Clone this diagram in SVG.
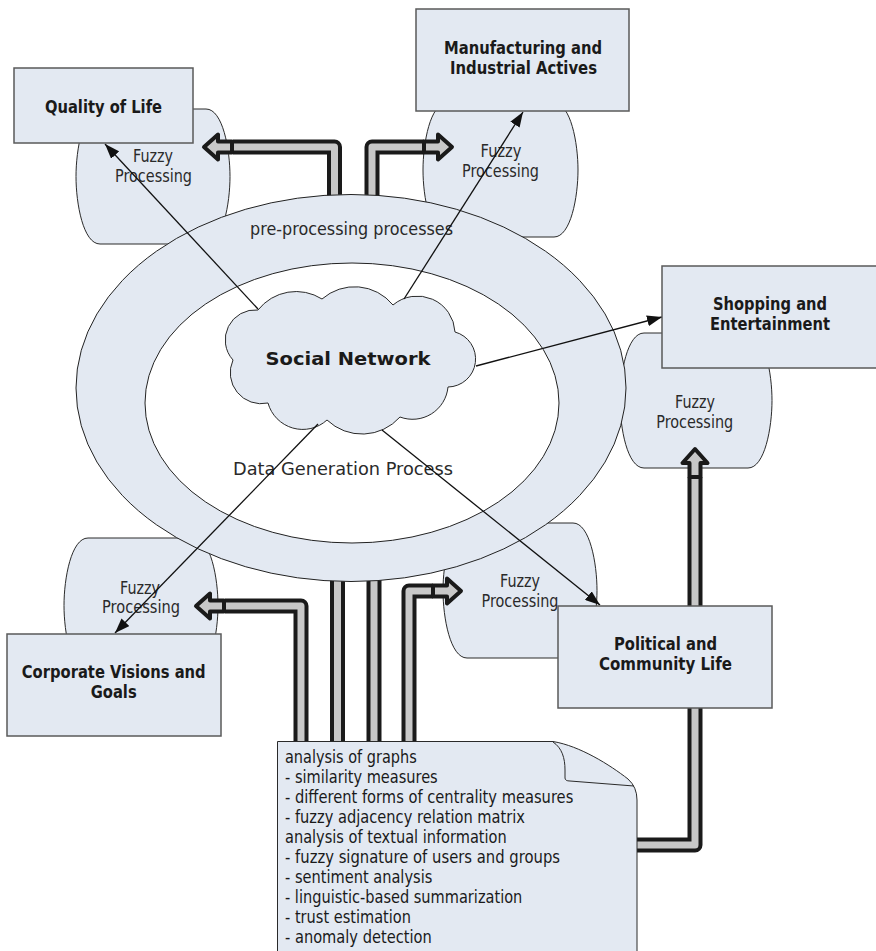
<svg xmlns="http://www.w3.org/2000/svg" width="876" height="951" viewBox="0 0 876 951">
  <style>
    .cyl { fill:#e3e9f2; stroke:#2a2a2a; stroke-width:1; }
    .box { fill:#e3e9f2; stroke:#5a5a5a; stroke-width:1.5; }
    .ring { fill:#e3e9f2; stroke:#222; stroke-width:1; }
    .core { fill:#ffffff; stroke:#222; stroke-width:1; }
    .lbl { font-family:"DejaVu Sans", Verdana, sans-serif; font-weight:bold; font-size:17.5px; fill:#1a1a1a; text-anchor:middle; }
    .txt { font-family:"DejaVu Sans", Verdana, sans-serif; font-size:18px; fill:#2a2a2a; text-anchor:middle; }
    .note-txt { font-family:"DejaVu Sans", Verdana, sans-serif; font-size:18px; fill:#1a1a1a; }
    .pipe-o { fill:none; stroke:#1a1a1a; stroke-width:15; stroke-linejoin:round; }
    .pipe-i { fill:none; stroke:#c8c8c8; stroke-width:7; stroke-linejoin:round; }
    .link { fill:none; stroke:#111; stroke-width:1.3; marker-end:url(#tip); }
  </style>
  <defs>
    <marker id="tip" markerUnits="userSpaceOnUse" markerWidth="15" markerHeight="11" refX="15" refY="5.5" orient="auto">
      <path d="M0,0 L15,5.5 L0,11 Z" fill="#111"/>
    </marker>
    <!-- block arrow head, pointing +x, tip at origin -->
    <polygon id="head" points="-31,-5.5 -17,-5.5 -17,-12.5 -3,0 -17,12.5 -17,5.5 -31,5.5" fill="#c8c8c8" stroke="#1a1a1a" stroke-width="4" stroke-linejoin="round"/>
  </defs>

  <rect width="876" height="951" fill="#ffffff"/>

  <!-- fuzzy processing stages -->
  <g id="fuzzy-quality">
    <path class="cyl" d="M100,109 H206 C222.8,109 230,149.5 230,176.5 C230,203.5 222.8,244 206,244 H100 C83.2,244 76,203.5 76,176.5 C76,149.5 83.2,109 100,109 Z"/>
    <text class="txt" x="153" y="162" textLength="40" lengthAdjust="spacingAndGlyphs">Fuzzy</text>
    <text class="txt" x="153.5" y="182" textLength="77" lengthAdjust="spacingAndGlyphs">Processing</text>
  </g>
  <g id="fuzzy-manufacturing">
    <path class="cyl" d="M447,103 H554 C570.8,103 578,143.2 578,170 C578,196.8 570.8,237 554,237 H447 C430.2,237 423,196.8 423,170 C423,143.2 430.2,103 447,103 Z"/>
    <text class="txt" x="501" y="157" textLength="41" lengthAdjust="spacingAndGlyphs">Fuzzy</text>
    <text class="txt" x="500.5" y="177" textLength="77" lengthAdjust="spacingAndGlyphs">Processing</text>
  </g>
  <g id="fuzzy-shopping">
    <path class="cyl" d="M644,333 H748 C764.8,333 772,373.5 772,400.5 C772,427.5 764.8,468 748,468 H644 C627.2,468 620,427.5 620,400.5 C620,373.5 627.2,333 644,333 Z"/>
    <text class="txt" x="695" y="408" textLength="40" lengthAdjust="spacingAndGlyphs">Fuzzy</text>
    <text class="txt" x="694.7" y="428" textLength="77" lengthAdjust="spacingAndGlyphs">Processing</text>
  </g>
  <g id="fuzzy-corporate">
    <path class="cyl" d="M88,538 H194 C210.8,538 218,578.5 218,605.5 C218,632.5 210.8,673 194,673 H88 C71.2,673 64,632.5 64,605.5 C64,578.5 71.2,538 88,538 Z"/>
    <text class="txt" x="140" y="594" textLength="40" lengthAdjust="spacingAndGlyphs">Fuzzy</text>
    <text class="txt" x="141" y="613" textLength="78" lengthAdjust="spacingAndGlyphs">Processing</text>
  </g>
  <g id="fuzzy-political">
    <path class="cyl" d="M467,523 H573 C589.8,523 597,563.5 597,590.5 C597,617.5 589.8,658 573,658 H467 C450.2,658 443,617.5 443,590.5 C443,563.5 450.2,523 467,523 Z"/>
    <text class="txt" x="520" y="587" textLength="40" lengthAdjust="spacingAndGlyphs">Fuzzy</text>
    <text class="txt" x="520" y="607" textLength="77" lengthAdjust="spacingAndGlyphs">Processing</text>
  </g>

  <!-- thick flow pipes -->
  <g id="flows">
    <polyline class="pipe-o" points="334.5,215 334.5,147 233,147"/>
    <polyline class="pipe-i" points="334.5,215 334.5,147 233,147"/>
    <use href="#head" transform="translate(201,147) rotate(180)"/>

    <polyline class="pipe-o" points="372,215 372,147 424,147"/>
    <polyline class="pipe-i" points="372,215 372,147 424,147"/>
    <use href="#head" transform="translate(455,147)"/>

    <polyline class="pipe-o" points="301,745 301,606 225,606"/>
    <polyline class="pipe-i" points="301,745 301,606 225,606"/>
    <use href="#head" transform="translate(193,606) rotate(180)"/>

    <polyline class="pipe-o" points="337.5,570 337.5,745"/>
    <polyline class="pipe-i" points="337.5,570 337.5,745"/>

    <polyline class="pipe-o" points="374,570 374,745"/>
    <polyline class="pipe-i" points="374,570 374,745"/>

    <polyline class="pipe-o" points="409,745 409,591 433,591"/>
    <polyline class="pipe-i" points="409,745 409,591 433,591"/>
    <use href="#head" transform="translate(464,591)"/>

    <polyline class="pipe-o" points="630,845 695,845 695,477"/>
    <polyline class="pipe-i" points="630,845 695,845 695,477"/>
    <use href="#head" transform="translate(695,446) rotate(-90)"/>
  </g>

  <!-- processing rings around the network -->
  <g id="pre-processing">
    <ellipse class="ring" cx="351" cy="388" rx="275" ry="193.5"/>
    <text class="txt" x="351.5" y="235" font-size="19" textLength="203" lengthAdjust="spacingAndGlyphs">pre-processing processes</text>
  </g>
  <g id="data-generation">
    <ellipse class="core" cx="352" cy="403" rx="207" ry="140"/>
    <text class="txt" x="343" y="475" font-size="19" textLength="220" lengthAdjust="spacingAndGlyphs">Data Generation Process</text>
  </g>
  <g id="social-network">
    <path class="cyl" stroke-width="1.2" d="M258,310 A48.5,48.5 0 0 1 322,299 A49.5,49.5 0 0 1 393,305 A37.7,37.7 0 0 1 455,332 A28,28 0 0 1 448,387 A35.6,35.6 0 0 1 400,417 A50.7,50.7 0 0 1 327,420 A36,36 0 0 1 268,403 A31,31 0 0 1 233,360 A30,30 0 0 1 258,310 Z"/>
    <text class="lbl" x="348" y="365" font-size="23.5" textLength="165" lengthAdjust="spacingAndGlyphs">Social Network</text>
  </g>

  <!-- links from the network to application areas -->
  <g id="connectors">
    <path class="link" d="M258,309 L105,144"/>
    <path class="link" d="M404,299 L523,112"/>
    <path class="link" d="M476,366 L662,317"/>
    <path class="link" d="M382,430 L600,605"/>
    <path class="link" d="M318,424 L115,633"/>
  </g>

  <!-- application areas -->
  <g id="quality-of-life">
    <rect class="box" x="14" y="68" width="179" height="75"/>
    <text class="lbl" x="103.5" y="113" textLength="117" lengthAdjust="spacingAndGlyphs">Quality of Life</text>
  </g>
  <g id="manufacturing">
    <rect class="box" x="416" y="9" width="213" height="102"/>
    <text class="lbl" x="523" y="54" textLength="158" lengthAdjust="spacingAndGlyphs">Manufacturing and</text>
    <text class="lbl" x="523.5" y="74" textLength="147" lengthAdjust="spacingAndGlyphs">Industrial Actives</text>
  </g>
  <g id="shopping">
    <rect class="box" x="662" y="266" width="216" height="102"/>
    <text class="lbl" x="770" y="310" textLength="114" lengthAdjust="spacingAndGlyphs">Shopping and</text>
    <text class="lbl" x="770" y="330" textLength="120" lengthAdjust="spacingAndGlyphs">Entertainment</text>
  </g>
  <g id="corporate">
    <rect class="box" x="7" y="634" width="214" height="102"/>
    <text class="lbl" x="113.7" y="678" textLength="184" lengthAdjust="spacingAndGlyphs">Corporate Visions and</text>
    <text class="lbl" x="113.7" y="698" textLength="46" lengthAdjust="spacingAndGlyphs">Goals</text>
  </g>
  <g id="political">
    <rect class="box" x="558" y="606" width="214" height="102"/>
    <text class="lbl" x="665.5" y="650" textLength="103" lengthAdjust="spacingAndGlyphs">Political and</text>
    <text class="lbl" x="665.5" y="670" textLength="133" lengthAdjust="spacingAndGlyphs">Community Life</text>
  </g>

  <!-- analysis methods note -->
  <g id="methods-note">
    <path class="cyl" d="M277.5,741.5 H553 C580,746 610,765 628,779 Q637,787 637,800 V960 H277.5 Z"/>
    <path fill="none" stroke="#2a2a2a" stroke-width="1" d="M553,742 C562,748 565,758 565,770 V778 Q565,781 570,781 L634,786"/>
    <text class="note-txt" x="285" y="763" textLength="131.7" lengthAdjust="spacingAndGlyphs">analysis of graphs</text>
    <text class="note-txt" x="285" y="783" textLength="152.7" lengthAdjust="spacingAndGlyphs">- similarity measures</text>
    <text class="note-txt" x="285" y="803" textLength="288.3" lengthAdjust="spacingAndGlyphs">- different forms of centrality measures</text>
    <text class="note-txt" x="285" y="823" textLength="240" lengthAdjust="spacingAndGlyphs">- fuzzy adjacency relation matrix</text>
    <text class="note-txt" x="285" y="843" textLength="221.7" lengthAdjust="spacingAndGlyphs">analysis of textual information</text>
    <text class="note-txt" x="285" y="863" textLength="275" lengthAdjust="spacingAndGlyphs">- fuzzy signature of users and groups</text>
    <text class="note-txt" x="285" y="883" textLength="147.3" lengthAdjust="spacingAndGlyphs">- sentiment analysis</text>
    <text class="note-txt" x="285" y="903" textLength="237.3" lengthAdjust="spacingAndGlyphs">- linguistic-based summarization</text>
    <text class="note-txt" x="285" y="923" textLength="126" lengthAdjust="spacingAndGlyphs">- trust estimation</text>
    <text class="note-txt" x="285" y="943" textLength="146.7" lengthAdjust="spacingAndGlyphs">- anomaly detection</text>
  </g>
</svg>
